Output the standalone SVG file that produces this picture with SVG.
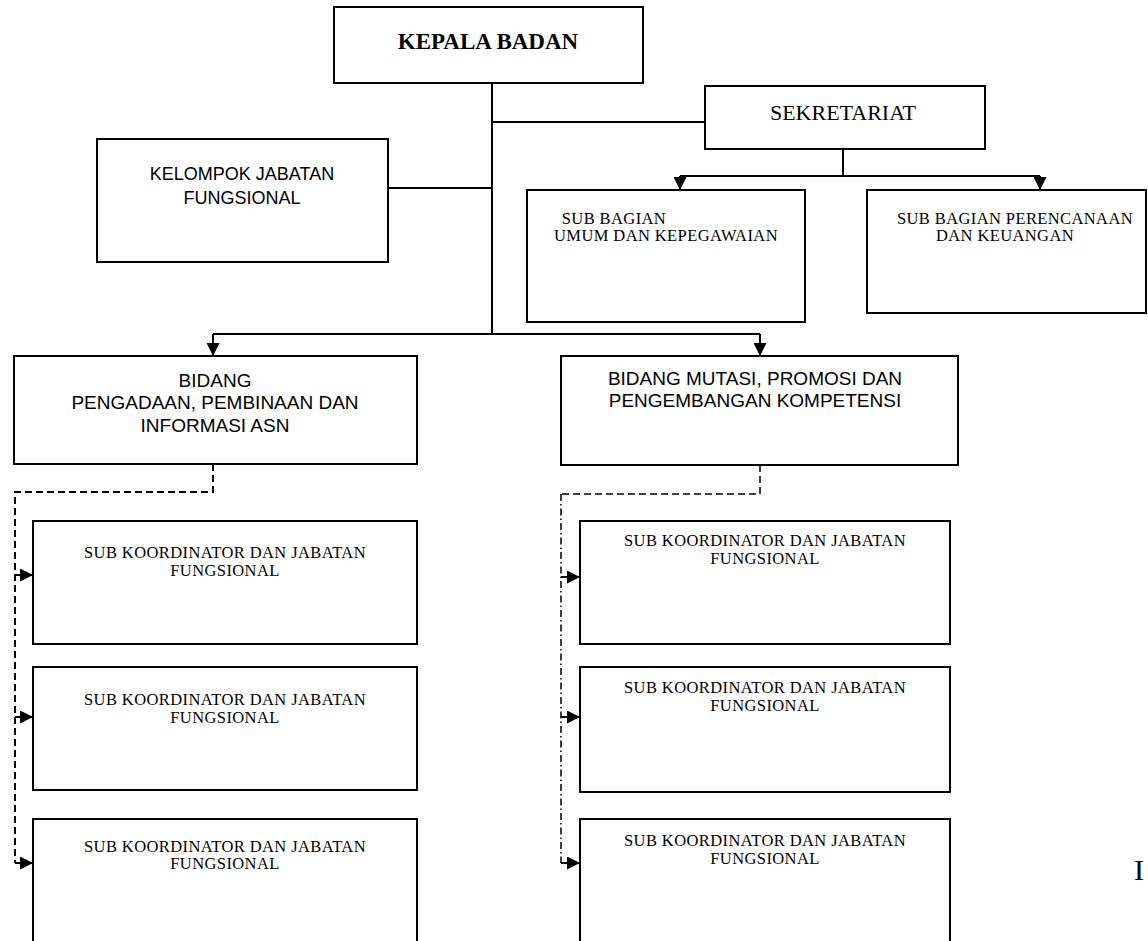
<svg xmlns="http://www.w3.org/2000/svg" width="1148" height="941" viewBox="0 0 1148 941">
  <style>
    .box { fill: #fff; stroke: #000; stroke-width: 2; }
    .ln { fill: none; stroke: #000; stroke-width: 2; }
    .dash { fill: none; stroke: #000; stroke-width: 2; stroke-dasharray: 7 4; }
    .dashdot { fill: none; stroke: #000; stroke-width: 1.5; stroke-dasharray: 7 3 1.5 3; }
    .serif { font-family: "Liberation Serif", "DejaVu Serif", serif; fill: #000; text-anchor: middle; }
    .sans { font-family: "Liberation Sans", "DejaVu Sans", sans-serif; fill: #000; text-anchor: middle; }
    .sub { font-size: 16.5px; letter-spacing: 0.4px; }
  </style>
  <defs>
    <marker id="tri" viewBox="0 0 10 10" refX="10" refY="5" markerWidth="15" markerHeight="13" markerUnits="userSpaceOnUse" orient="auto">
      <path d="M0,0 L10,5 L0,10 z" fill="#000"/>
    </marker>
  </defs>
  <rect width="1148" height="941" fill="#fff"/>

  <!-- connectors -->
  <g id="connectors">
    <path class="ln" d="M492,83 V334"/>
    <path class="ln" d="M492,122 H705"/>
    <path class="ln" d="M388,188 H492"/>
    <path class="ln" d="M843,149 V176"/>
    <path class="ln" d="M680,176 H1040"/>
    <path class="ln" d="M680,176 V190" marker-end="url(#tri)"/>
    <path class="ln" d="M1040,176 V190" marker-end="url(#tri)"/>
    <path class="ln" d="M213,334 H760"/>
    <path class="ln" d="M213,334 V356" marker-end="url(#tri)"/>
    <path class="ln" d="M760,334 V356" marker-end="url(#tri)"/>
    <!-- left column: dashed feed to sub units -->
    <path class="dash" d="M213,464 V492 H15 V863"/>
    <path class="ln" d="M15,575 H33" marker-end="url(#tri)"/>
    <path class="ln" d="M15,717 H33" marker-end="url(#tri)"/>
    <path class="ln" d="M15,863 H33" marker-end="url(#tri)"/>
    <!-- right column: dash-dot feed to sub units -->
    <path class="dash" d="M760,465 V494 H561" style="stroke-width:1.5"/>
    <path class="dashdot" d="M561,494 V863"/>
    <path class="ln" d="M561,577 H580" marker-end="url(#tri)"/>
    <path class="ln" d="M561,717 H580" marker-end="url(#tri)"/>
    <path class="ln" d="M561,863 H580" marker-end="url(#tri)"/>
  </g>

  <g id="kepala">
    <rect class="box" x="334" y="7" width="309" height="76"/>
    <text class="serif" x="488" y="49" font-size="23" font-weight="bold">KEPALA BADAN</text>
  </g>

  <g id="sekretariat">
    <rect class="box" x="705" y="86" width="280" height="63"/>
    <text class="serif" x="843" y="120" font-size="22">SEKRETARIAT</text>
  </g>

  <g id="kelompok">
    <rect class="box" x="97" y="139" width="291" height="123"/>
    <text class="sans" x="242" y="180" font-size="18">KELOMPOK JABATAN</text>
    <text class="sans" x="242" y="204" font-size="18">FUNGSIONAL</text>
  </g>

  <g id="subbag-umum">
    <rect class="box" x="527" y="190" width="278" height="132"/>
    <text class="serif sub" x="614" y="224">SUB BAGIAN</text>
    <text class="serif sub" x="666" y="241">UMUM DAN KEPEGAWAIAN</text>
  </g>

  <g id="subbag-perencanaan">
    <rect class="box" x="867" y="190" width="279" height="123"/>
    <text class="serif sub" x="1015" y="224">SUB BAGIAN PERENCANAAN</text>
    <text class="serif sub" x="1005" y="241">DAN KEUANGAN</text>
  </g>

  <g id="bidang-pengadaan">
    <rect class="box" x="14" y="356" width="403" height="108"/>
    <text class="sans" x="215" y="387" font-size="19">BIDANG</text>
    <text class="sans" x="215" y="409" font-size="19">PENGADAAN, PEMBINAAN DAN</text>
    <text class="sans" x="215" y="432" font-size="19">INFORMASI ASN</text>
  </g>

  <g id="bidang-mutasi">
    <rect class="box" x="561" y="356" width="397" height="109"/>
    <text class="sans" x="755" y="385" font-size="19">BIDANG MUTASI, PROMOSI DAN</text>
    <text class="sans" x="755" y="407" font-size="19">PENGEMBANGAN KOMPETENSI</text>
  </g>

  <g id="sub-kiri-1">
    <rect class="box" x="33" y="521" width="384" height="123"/>
    <text class="serif sub" x="225" y="558">SUB KOORDINATOR DAN JABATAN</text>
    <text class="serif sub" x="225" y="576">FUNGSIONAL</text>
  </g>
  <g id="sub-kiri-2">
    <rect class="box" x="33" y="667" width="384" height="123"/>
    <text class="serif sub" x="225" y="705">SUB KOORDINATOR DAN JABATAN</text>
    <text class="serif sub" x="225" y="723">FUNGSIONAL</text>
  </g>
  <g id="sub-kiri-3">
    <rect class="box" x="33" y="819" width="384" height="140"/>
    <text class="serif sub" x="225" y="852">SUB KOORDINATOR DAN JABATAN</text>
    <text class="serif sub" x="225" y="869">FUNGSIONAL</text>
  </g>

  <g id="sub-kanan-1">
    <rect class="box" x="580" y="521" width="370" height="123"/>
    <text class="serif sub" x="765" y="546">SUB KOORDINATOR DAN JABATAN</text>
    <text class="serif sub" x="765" y="564">FUNGSIONAL</text>
  </g>
  <g id="sub-kanan-2">
    <rect class="box" x="580" y="667" width="370" height="125"/>
    <text class="serif sub" x="765" y="693">SUB KOORDINATOR DAN JABATAN</text>
    <text class="serif sub" x="765" y="711">FUNGSIONAL</text>
  </g>
  <g id="sub-kanan-3">
    <rect class="box" x="580" y="819" width="370" height="140"/>
    <text class="serif sub" x="765" y="846">SUB KOORDINATOR DAN JABATAN</text>
    <text class="serif sub" x="765" y="864">FUNGSIONAL</text>
  </g>

  <text x="1134" y="880" font-family="Liberation Serif, serif" font-size="30">I</text>
</svg>
